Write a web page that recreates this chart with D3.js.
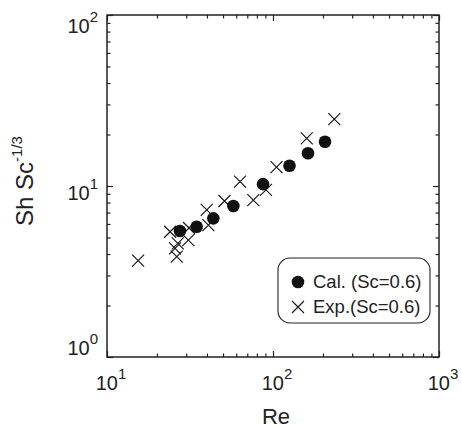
<!DOCTYPE html>
<html>
<head>
<meta charset="utf-8">
<script src="https://cdn.jsdelivr.net/npm/d3@7"></script>
<style>
body { margin: 0; background: #fff; }
svg { font-family: "Liberation Sans", Arial, Helvetica, sans-serif; }
</style>
</head>
<body>
<div id="chart"></div>
<script>
// values
var calRe = [27.5, 34.7, 43.7, 57.7, 87.1, 125.7, 162.5, 205.7];
var calSh = [5.46, 5.78, 6.47, 7.64, 10.25, 13.14, 15.53, 18.16];
var expRe = [15.4, 24.0, 26.7, 25.7, 26.3, 30.9, 31.2, 39.9, 40.8, 51.0, 63.3, 76.1, 90.7, 105, 159.6, 234];
var expSh = [3.66, 5.40, 4.62, 4.32, 3.86, 4.83, 5.68, 7.24, 5.91, 8.17, 10.6, 8.28, 9.48, 12.9, 19.0, 24.6];
var xMajor = [10, 100, 1000];
var yMajor = [1, 10, 100];
var legendLabels = ["Cal. (Sc=0.6)", "Exp.(Sc=0.6)"];

var W = 461, H = 428;
var pLeft = 107, pTop = 15, pRight = 439, pBottom = 357;

var svg = d3.select("#chart")
    .append("svg")
    .attr("width", W)
    .attr("height", H);

var x = d3.scaleLog().domain([10, 1000]).range([pLeft, pRight]);
var y = d3.scaleLog().domain([1, 100]).range([pBottom, pTop]);

var xMinor = x.ticks().filter(function(d){ return xMajor.indexOf(d) < 0; });
var yMinor = y.ticks().filter(function(d){ return yMajor.indexOf(d) < 0; });

function drawAxis(axisFn, scale, pos, values, len){
	svg.append("g")
		.attr("transform", pos)
		.call(axisFn(scale).tickValues(values).tickSizeInner(-len).tickSizeOuter(0).tickFormat(""))
		.call(function(g){
			g.select(".domain").remove();
			g.selectAll("line").attr("stroke", "#222").attr("stroke-width", 1.2);
		});
}

// inward ticks on all four sides
drawAxis(d3.axisBottom, x, "translate(0," + pBottom + ")", xMajor, 6);
drawAxis(d3.axisBottom, x, "translate(0," + pBottom + ")", xMinor, 3.5);
drawAxis(d3.axisTop, x, "translate(0," + pTop + ")", xMajor, 6);
drawAxis(d3.axisTop, x, "translate(0," + pTop + ")", xMinor, 3.5);
drawAxis(d3.axisLeft, y, "translate(" + pLeft + ",0)", yMajor, 6);
drawAxis(d3.axisLeft, y, "translate(" + pLeft + ",0)", yMinor, 3.5);
drawAxis(d3.axisRight, y, "translate(" + pRight + ",0)", yMajor, 6);
drawAxis(d3.axisRight, y, "translate(" + pRight + ",0)", yMinor, 3.5);

svg.append("rect")
	.attr("x", pLeft).attr("y", pTop)
	.attr("width", pRight - pLeft).attr("height", pBottom - pTop)
	.attr("fill", "none").attr("stroke", "#222").attr("stroke-width", 1.5);

// tick labels with superscript exponents
var xl = svg.selectAll(".xl").data(xMajor).enter()
	.append("text")
	.attr("x", function(d){ return x(d) + 4; })
	.attr("y", 390)
	.attr("text-anchor", "middle")
	.attr("font-size", 20)
	.attr("fill", "#222");
xl.append("tspan").text("10");
xl.append("tspan").attr("font-size", 15).attr("dy", -11)
	.text(function(d){ return Math.round(Math.log10(d)); });

var yl = svg.selectAll(".yl").data(yMajor).enter()
	.append("text")
	.attr("x", 98)
	.attr("y", function(d){ return Math.min(Math.max(y(d) + 14, 33), 355); })
	.attr("text-anchor", "end")
	.attr("font-size", 20)
	.attr("fill", "#222");
yl.append("tspan").text("10");
yl.append("tspan").attr("font-size", 15).attr("dy", -11)
	.text(function(d){ return Math.round(Math.log10(d)); });

// axis titles
svg.append("text")
	.attr("x", (pLeft + pRight) / 2 + 3)
	.attr("y", 424)
	.attr("text-anchor", "middle")
	.attr("font-size", 22)
	.attr("fill", "#222")
	.text("Re");

var yt = svg.append("text")
	.attr("transform", "translate(33," + 181 + ") rotate(-90)")
	.attr("text-anchor", "middle")
	.attr("font-size", 24)
	.attr("fill", "#222");
yt.append("tspan").text("Sh Sc");
yt.append("tspan").attr("font-size", 15).attr("dy", -11).text("-1/3");

// data
var crossPath = "M-6,-6L6,6M-6,6L6,-6";

svg.append("g").selectAll("path")
	.data(expRe)
	.enter()
	.append("path")
	.attr("d", crossPath)
	.attr("transform", function(d, i){ return "translate(" + x(d) + "," + y(expSh[i]) + ")"; })
	.attr("stroke", "#111").attr("stroke-width", 1.1).attr("fill", "none");

svg.append("g").selectAll("circle")
	.data(calRe)
	.enter()
	.append("circle")
	.attr("cx", function(d){ return x(d); })
	.attr("cy", function(d, i){ return y(calSh[i]); })
	.attr("r", 6.3)
	.attr("fill", "#111");

// legend
var lg = svg.append("g");
lg.append("rect")
	.attr("x", 278).attr("y", 258)
	.attr("width", 152).attr("height", 65)
	.attr("rx", 12).attr("ry", 12)
	.attr("fill", "#fff").attr("stroke", "#222").attr("stroke-width", 1.1);
lg.append("circle").attr("cx", 298).attr("cy", 282).attr("r", 6.3).attr("fill", "#111");
lg.append("path").attr("d", crossPath).attr("transform", "translate(298,307)")
	.attr("stroke", "#111").attr("stroke-width", 1.1).attr("fill", "none");
lg.selectAll("text")
	.data(legendLabels)
	.enter()
	.append("text")
	.attr("x", 313)
	.attr("y", function(d, i){ return 288 + i * 25; })
	.attr("font-size", 18.5)
	.attr("fill", "#222")
	.text(function(d){ return d; });
</script>
</body>
</html>
